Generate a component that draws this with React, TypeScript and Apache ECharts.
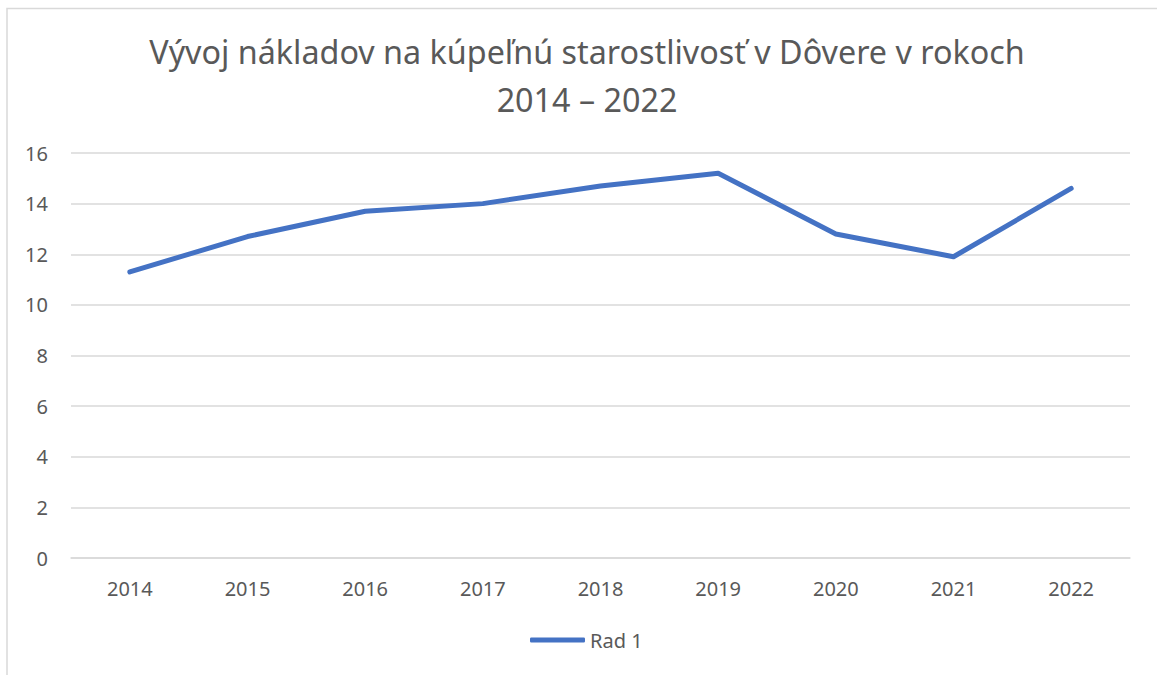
import React, { useEffect, useRef } from "react";
import * as echarts from "echarts";

const categories = ["2014", "2015", "2016", "2017", "2018", "2019", "2020", "2021", "2022"];
const values = [11.3, 12.7, 13.7, 14.0, 14.7, 15.2, 12.8, 11.9, 14.6];
const seriesName = "Rad 1";
const titleText = "Vývoj nákladov na kúpeľnú starostlivosť v Dôvere v rokoch\n2014 – 2022";

const FONT = "'Noto Sans', 'DejaVu Sans', sans-serif";

export default function App() {
  const ref = useRef<HTMLDivElement>(null);
  useEffect(() => {
    document.body.style.margin = "0";
    const chart = echarts.init(ref.current!, null, { renderer: "svg" });
    chart.setOption({
      animation: false,
      backgroundColor: "#ffffff",
      graphic: [
        {
          type: "rect",
          shape: { x: 7, y: 8.5, width: 1170, height: 700 },
          style: { fill: "none", stroke: "#d9d9d9", lineWidth: 1.5 },
          silent: true,
        },
      ],
      title: {
        text: titleText,
        left: 582,
        textAlign: "center",
        top: 22,
        textStyle: {
          fontFamily: FONT,
          fontSize: 32.3,
          fontWeight: "normal",
          color: "#595959",
          lineHeight: 48,
        },
      },
      legend: {
        data: [seriesName],
        bottom: 20,
        left: 525,
        itemWidth: 55,
        itemHeight: 5,
        itemGap: 6,
        icon: "roundRect",
        textStyle: { fontFamily: FONT, fontSize: 20, color: "#595959" },
      },
      grid: { left: 71, right: 27, top: 153, bottom: 117, containLabel: false },
      xAxis: {
        type: "category",
        data: categories,
        boundaryGap: true,
        axisLine: { show: true, lineStyle: { color: "#d9d9d9", width: 1.5 } },
        axisTick: { show: false },
        axisLabel: { fontFamily: FONT, fontSize: 20, color: "#595959", margin: 20 },
      },
      yAxis: {
        type: "value",
        min: 0,
        max: 16,
        interval: 2,
        axisLine: { show: false },
        axisTick: { show: false },
        splitLine: { lineStyle: { color: "#d9d9d9", width: 1.5 } },
        axisLabel: { fontFamily: FONT, fontSize: 20, color: "#595959", margin: 23 },
      },
      series: [
        {
          name: seriesName,
          type: "line",
          data: values,
          symbol: "none",
          lineStyle: { color: "#4472c4", width: 5, cap: "round", join: "round" },
          itemStyle: { color: "#4472c4" },
        },
      ],
    });
    return () => chart.dispose();
  }, []);
  return <div ref={ref} style={{ width: 1157, height: 675 }} />;
}
